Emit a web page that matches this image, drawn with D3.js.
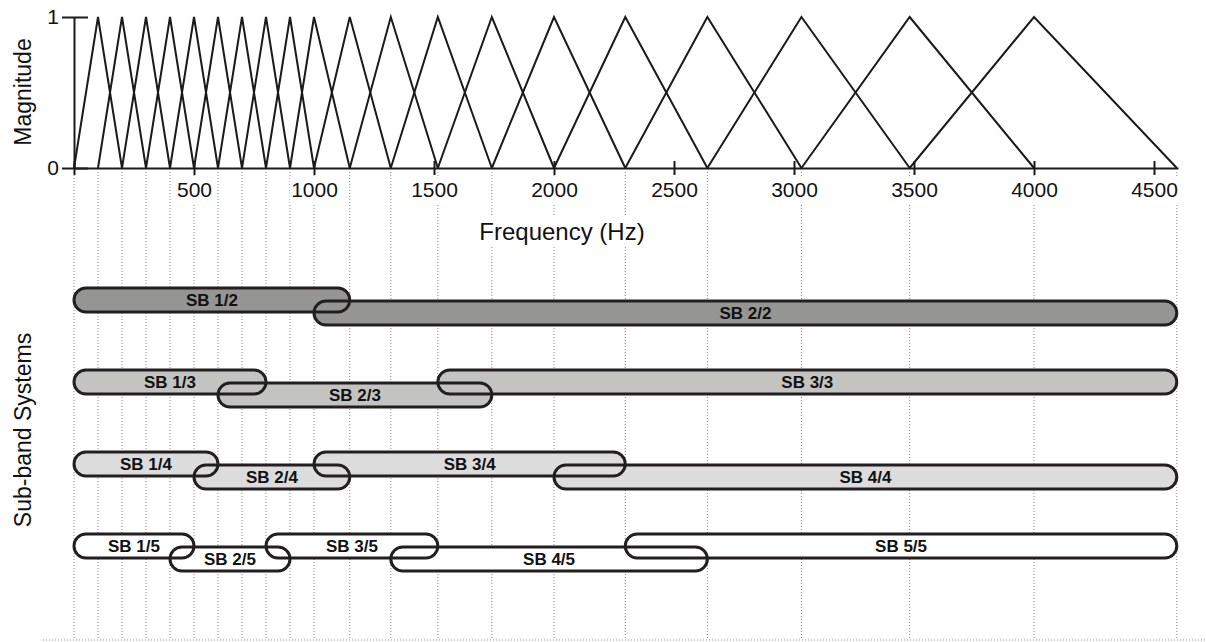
<!DOCTYPE html>
<html lang="en">
<head>
<meta charset="utf-8">
<title>Filterbank and Sub-band Systems</title>
<script src="https://cdn.jsdelivr.net/npm/d3@7"></script>
<style>
  body { margin: 0; background: #fff; }
  svg { display: block; font-family: "Liberation Sans", Arial, sans-serif; }
  .grid line { stroke: #8a8a8a; stroke-width: 1; stroke-dasharray: 1 2; }
  .axis path, .axis line { stroke: #1a1a1a; stroke-width: 2; }
  .axis text { font-family: "Liberation Sans", Arial, sans-serif; font-size: 21px; fill: #111; }
  .tri { fill: none; stroke: #1a1a1a; stroke-width: 2; }
  .pill-edge { fill: none; stroke: #231f20; stroke-width: 3; }
  .pill-label { font-size: 17px; font-weight: bold; fill: #111; text-anchor: middle; }
  .title { font-size: 24px; fill: #111; }
  .ytitle { font-size: 23px; fill: #111; text-anchor: middle; }
</style>
</head>
<body>
<svg id="chart"></svg>
<script>
// filter centre frequencies in Hz (first and last are only feet)
var centers = [0, 100, 200, 300, 400, 500, 600, 700, 800, 900, 1000,
               1149, 1320, 1516, 1741, 2000, 2297, 2639, 3031, 3482, 4000, 4595];
var xTicks = [0, 500, 1000, 1500, 2000, 2500, 3000, 3500, 4000, 4500];
var yTicks = [0, 1];

// sub-band edges (Hz), one list per system
var sb2 = [[0, 1149], [1000, 4595]];
var sb3 = [[0, 800], [600, 1741], [1516, 4595]];
var sb4 = [[0, 600], [500, 1149], [1000, 2297], [2000, 4595]];
var sb5 = [[0, 500], [400, 900], [800, 1516], [1320, 2639], [2297, 4595]];
var systems = [2, 3, 4, 5];
var sysFills = ["#959593", "#c3c3c1", "#dcdcdc", "#ffffff"];

var width = 1206, height = 642;
var pillH = 24, lowShift = 13;

var svg = d3.select("#chart").attr("width", width).attr("height", height);

var x = d3.scaleLinear().domain([0, 4600]).range([74, 1178]);
var y = d3.scaleLinear().domain([0, 1]).range([168, 17]);
var rowY = d3.scalePoint().domain(systems).range([300, 546]);
var fillOf = d3.scaleOrdinal().domain(systems).range(sysFills);

// dotted guides at every filter centre
var grid = svg.append("g").attr("class", "grid");
grid.selectAll("line.v")
    .data(centers)
    .enter().append("line")
    .attr("class", "v")
    .attr("x1", function (d) { return x(d); })
    .attr("x2", function (d) { return x(d); })
    .attr("y1", 172)
    .attr("y2", 640);
grid.append("line")
    .attr("x1", 43).attr("x2", width)
    .attr("y1", 640).attr("y2", 640);

// axes
var gx = svg.append("g")
    .attr("class", "axis")
    .attr("transform", "translate(0," + y(0) + ")")
    .call(d3.axisBottom(x).tickValues(xTicks).tickSize(7).tickSizeOuter(0)
        .tickFormat(function (d) { return d === 0 ? "" : d; }));
gx.selectAll(".tick line").attr("y1", -7).attr("y2", 7);
gx.selectAll(".tick text").attr("y", 29).attr("dy", null);
// white boxes so the guides stop at the labels
gx.selectAll(".tick").each(function () {
    var t = d3.select(this).select("text");
    if (!t.text()) return;
    var b = t.node().getBBox();
    d3.select(this).insert("rect", "text")
        .attr("x", b.x - 1).attr("y", b.y - 2)
        .attr("width", b.width + 2).attr("height", b.height + 4)
        .attr("fill", "#fff");
});

var gy = svg.append("g")
    .attr("class", "axis")
    .attr("transform", "translate(" + x(0) + ",0)")
    .call(d3.axisLeft(y).tickValues(yTicks).tickSize(12).tickSizeOuter(0)
        .tickFormat(d3.format("d")));
gy.selectAll(".tick line").attr("x1", -12).attr("x2", 14);
gy.selectAll(".tick text").attr("x", -15);

// triangular filters
var tris = d3.range(1, centers.length - 1).map(function (i) {
    return [[centers[i - 1], 0], [centers[i], 1], [centers[i + 1], 0]];
});
var line = d3.line()
    .x(function (d) { return x(d[0]); })
    .y(function (d) { return y(d[1]); });
svg.append("g").selectAll("path")
    .data(tris)
    .enter().append("path")
    .attr("class", "tri")
    .attr("d", line);

// titles
var fq = svg.append("text")
    .attr("class", "title")
    .attr("x", 562).attr("y", 240)
    .attr("text-anchor", "middle")
    .text("Frequency (Hz)");
var fb = fq.node().getBBox();
svg.insert("rect", function () { return fq.node(); })
    .attr("x", fb.x - 2).attr("y", fb.y - 3)
    .attr("width", fb.width + 4).attr("height", fb.height + 4)
    .attr("fill", "#fff");

svg.append("text")
    .attr("class", "ytitle")
    .attr("transform", "translate(31,92) rotate(-90)")
    .text("Magnitude");
svg.append("text")
    .attr("class", "ytitle")
    .attr("transform", "translate(31,430) rotate(-90)")
    .text("Sub-band Systems");

// sub-band pills
var allBands = [sb2, sb3, sb4, sb5];
var pills = [];
allBands.forEach(function (bands, si) {
    var n = systems[si];
    bands.forEach(function (b, k) {
        pills.push({ n: n, k: k + 1, lo: b[0], hi: b[1], low: k % 2 === 1 });
    });
});

var pg = svg.append("g");
systems.forEach(function (n) {
    var rows = pills.filter(function (p) { return p.n === n; });
    var g = pg.append("g");
    function place(sel) {
        return sel
            .attr("x", function (d) { return x(d.lo); })
            .attr("y", function (d) { return rowY(d.n) - pillH / 2 + (d.low ? lowShift : 0); })
            .attr("width", function (d) { return x(d.hi) - x(d.lo); })
            .attr("height", pillH)
            .attr("rx", pillH / 2).attr("ry", pillH / 2);
    }
    // fills first, then all outlines so every overlap shows both edges
    place(g.selectAll("rect.f").data(rows).enter().append("rect").attr("class", "f"))
        .attr("fill", function (d) { return fillOf(d.n); });
    place(g.selectAll("rect.e").data(rows).enter().append("rect").attr("class", "pill-edge"));
    g.selectAll("text")
        .data(rows)
        .enter().append("text")
        .attr("class", "pill-label")
        .attr("x", function (d) { return (x(d.lo) + x(d.hi)) / 2; })
        .attr("y", function (d) { return rowY(d.n) + (d.low ? lowShift : 0); })
        .attr("dy", "0.35em")
        .text(function (d) { return "SB " + d.k + "/" + d.n; });
});
</script>
</body>
</html>
